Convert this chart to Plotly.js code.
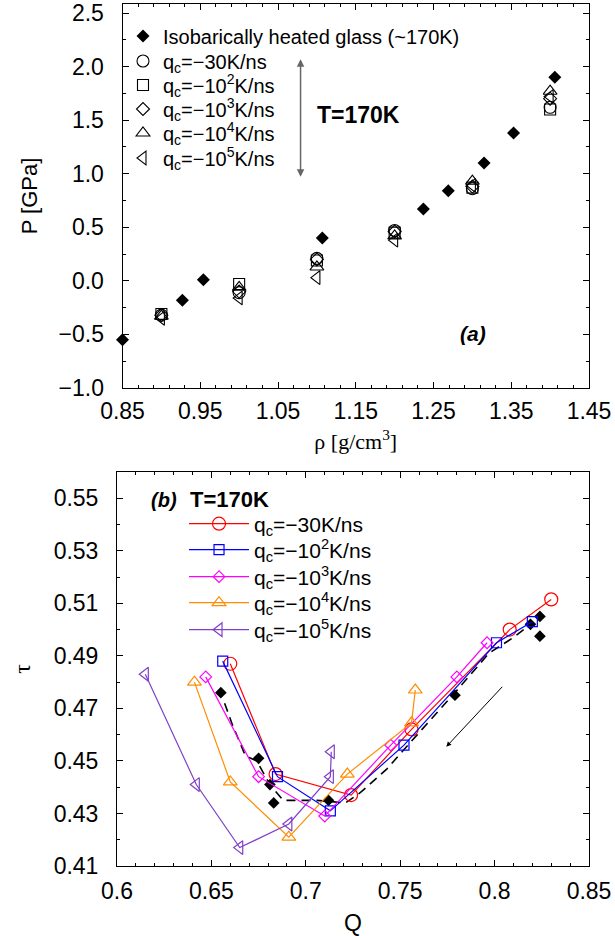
<!DOCTYPE html>
<html>
<head>
<meta charset="utf-8">
<script src="https://cdn.plot.ly/plotly-3.0.1.min.js"></script>
<style>html,body{margin:0;padding:0;background:#fff;}#chart{width:615px;height:936px;}</style>
</head>
<body>
<div id="chart"></div>
<script>
// ---------- Panel (a): P vs rho ----------
const rhoHeated = [0.850, 0.927, 0.954, 1.107, 1.237, 1.269, 1.315, 1.353, 1.406];
const pHeated   = [-0.55, -0.18, 0.01, 0.40, 0.67, 0.84, 1.10, 1.38, 1.90];

const rhoQuench = [0.90, 1.00, 1.10, 1.20, 1.30, 1.40];
const pQ30  = [-0.32, -0.11, 0.21, 0.47, 0.86, 1.62];
const pQ1e2 = [-0.31, -0.03, 0.19, 0.45, 0.87, 1.60];
const pQ1e3 = [-0.32, -0.10, 0.20, 0.46, 0.88, 1.70];
const pQ1e4 = [-0.33, -0.06, 0.13, 0.42, 0.93, 1.77];
const pQ1e5 = [-0.35, -0.16, 0.03, 0.38, 0.89, 1.72];

// ---------- Panel (b): tau vs Q ----------
const qQ30   = [0.660, 0.684, 0.724, 0.756, 0.808, 0.830];
const tauQ30 = [0.487, 0.445, 0.437, 0.462, 0.500, 0.5115];
const qQ1e2   = [0.656, 0.685, 0.713, 0.752, 0.801, 0.820];
const tauQ1e2 = [0.488, 0.444, 0.431, 0.456, 0.495, 0.503];
const qQ1e3   = [0.647, 0.675, 0.710, 0.745, 0.780, 0.796];
const tauQ1e3 = [0.482, 0.444, 0.429, 0.456, 0.482, 0.495];
const qQ1e4   = [0.641, 0.660, 0.691, 0.722, 0.756, 0.758];
const tauQ1e4 = [0.480, 0.442, 0.421, 0.445, 0.4645, 0.477];
const qQ1e5   = [0.615, 0.642, 0.665, 0.691, 0.713, 0.7135];
const tauQ1e5 = [0.483, 0.441, 0.417, 0.426, 0.444, 0.4535];

const qHeated   = [0.655, 0.675, 0.681, 0.683, 0.712, 0.779, 0.819, 0.824, 0.824];
const tauHeated = [0.476, 0.451, 0.441, 0.434, 0.435, 0.475, 0.502, 0.505, 0.4975];
const qHeatPath   = [0.657, 0.661, 0.668, 0.674, 0.681, 0.688, 0.706, 0.721, 0.729, 0.743, 0.764, 0.779, 0.797, 0.810, 0.820];
const tauHeatPath = [0.472, 0.464, 0.452, 0.450, 0.441, 0.435, 0.435, 0.434, 0.438, 0.447, 0.464, 0.476, 0.491, 0.497, 0.5025];

const seriesNames = [
  'q<sub>c</sub>=\u221230K/ns',
  'q<sub>c</sub>=\u221210<sup>2</sup>K/ns',
  'q<sub>c</sub>=\u221210<sup>3</sup>K/ns',
  'q<sub>c</sub>=\u221210<sup>4</sup>K/ns',
  'q<sub>c</sub>=\u221210<sup>5</sup>K/ns'
];
const heatedName = 'Isobarically heated glass (~170K)';

// ---------- styles ----------
const openSymbols = ['circle-open', 'square-open', 'diamond-open', 'triangle-up-open', 'triangle-left-open'];
const topSizes = [12, 11, 10, 12, 12];
const botSizes = [13, 10, 9, 12, 12];
const colors = ['#ff0000', '#0000ff', '#ff00ff', '#ff8c00', '#8040c8'];

const topP = [pQ30, pQ1e2, pQ1e3, pQ1e4, pQ1e5];
const botQ = [qQ30, qQ1e2, qQ1e3, qQ1e4, qQ1e5];
const botT = [tauQ30, tauQ1e2, tauQ1e3, tauQ1e4, tauQ1e5];

const baseFont = 'Liberation Sans, Arial, Helvetica, sans-serif';
const serifFont = 'Liberation Serif, Times New Roman, serif';

// page-pixel layout helpers
const plotTop = 4, plotBottom = 866, paperH = plotBottom - plotTop;
const toPaperY = py => (plotBottom - py) / paperH;
const topRows = [36, 61, 85, 109, 133, 158];
const botRows = [524, 550, 577, 603, 630];

const traces = [];
const legends = {};
function legendId(k) { return k === 0 ? 'legend' : 'legend' + (k + 1); }

traces.push({
  x: rhoHeated, y: pHeated, xaxis: 'x', yaxis: 'y', type: 'scatter', mode: 'markers',
  name: heatedName, legend: legendId(0), cliponaxis: false,
  marker: {symbol: 'diamond', size: 10, color: '#000'}
});
for (let i = 0; i < 5; i++) {
  traces.push({
    x: rhoQuench, y: topP[i], xaxis: 'x', yaxis: 'y', type: 'scatter', mode: 'markers',
    name: seriesNames[i], legend: legendId(i + 1), cliponaxis: false,
    marker: {symbol: openSymbols[i], size: topSizes[i], color: '#000', line: {width: 1.1, color: '#000'}}
  });
}
for (let k = 0; k < 6; k++) {
  legends[legendId(k)] = {
    x: 0.0127, xanchor: 'left', y: toPaperY(topRows[k]), yanchor: 'middle',
    bgcolor: 'rgba(0,0,0,0)', borderwidth: 0, itemwidth: 30,
    font: {family: baseFont, size: 20, color: '#000'}
  };
}

traces.push({
  x: qHeatPath, y: tauHeatPath, xaxis: 'x2', yaxis: 'y2', type: 'scatter', mode: 'lines',
  showlegend: false, line: {color: '#000', width: 1.6, dash: '9px,6px'}
});
traces.push({
  x: qHeated, y: tauHeated, xaxis: 'x2', yaxis: 'y2', type: 'scatter', mode: 'markers',
  showlegend: false, marker: {symbol: 'diamond', size: 9, color: '#000'}
});
for (let i = 0; i < 5; i++) {
  const lid = legendId(6 + i);
  traces.push({
    x: botQ[i], y: botT[i], xaxis: 'x2', yaxis: 'y2', type: 'scatter', mode: 'lines+markers',
    name: seriesNames[i], legend: lid, cliponaxis: false,
    line: {color: colors[i], width: 1.2},
    marker: {symbol: openSymbols[i], size: botSizes[i], color: colors[i], line: {width: 1.2, color: colors[i]}}
  });
  legends[lid] = {
    x: 0.142, xanchor: 'left', y: toPaperY(botRows[i]), yanchor: 'middle',
    bgcolor: 'rgba(0,0,0,0)', borderwidth: 0, itemwidth: 60,
    font: {family: baseFont, size: 21, color: '#000'}
  };
}

function axisStyle(extra) {
  return Object.assign({
    ticks: 'inside', ticklen: 6, tickwidth: 1, tickcolor: '#000',
    showline: true, linecolor: '#000', linewidth: 1, mirror: 'allticks',
    showgrid: false, zeroline: false, automargin: false, ticklabeloverflow: 'allow',
    tickfont: {family: baseFont, size: 23, color: '#000'}
  }, extra);
}

const layout = Object.assign({
  width: 615, height: 936,
  margin: {l: 117, r: 26, t: plotTop, b: 936 - plotBottom},
  paper_bgcolor: '#fff', plot_bgcolor: '#fff',
  font: {family: baseFont, size: 20, color: '#000'},
  showlegend: true,
  xaxis: axisStyle({
    domain: [0.0117, 1], anchor: 'y', range: [0.85, 1.45],
    tick0: 0.85, dtick: 0.1, tickformat: '.2f', ticklabelstandoff: 2,
    minor: {tick0: 0.85, dtick: 0.02, ticklen: 3, ticks: 'inside', tickcolor: '#000'},
    title: {text: '\u03c1 [g/cm<sup>3</sup>]', font: {family: serifFont, size: 22}, standoff: 11}
  }),
  yaxis: axisStyle({
    domain: [toPaperY(388), 1], anchor: 'x', range: [-1, 2.584],
    tick0: -1, dtick: 0.5, tickformat: '.1f', ticklabelstandoff: 13,
    minor: {tick0: -1, dtick: 0.25, ticklen: 3, ticks: 'inside', tickcolor: '#000'},
    title: {text: 'P [GPa]', font: {family: baseFont, size: 22}, standoff: 14}
  }),
  xaxis2: axisStyle({
    domain: [0, 1], anchor: 'y2', range: [0.6, 0.85],
    tick0: 0.6, dtick: 0.05, ticklabelstandoff: 4,
    minor: {tick0: 0.6, dtick: 0.01, ticklen: 3, ticks: 'inside', tickcolor: '#000'},
    title: {text: 'Q', font: {family: baseFont, size: 23}, standoff: 14}
  }),
  yaxis2: axisStyle({
    domain: [0, toPaperY(472)], anchor: 'x2', range: [0.41, 0.56],
    tick0: 0.41, dtick: 0.02, tickformat: '.2f', ticklabelstandoff: 13,
    minor: {tick0: 0.41, dtick: 0.01, ticklen: 3, ticks: 'inside', tickcolor: '#000'},
    title: {text: '\u03c4', font: {family: serifFont, size: 24}, standoff: 16}
  }),
  annotations: [
    {xref: 'x', yref: 'y', x: 1.153, y: 1.549, text: '<b>T=170K</b>', showarrow: false,
     font: {family: baseFont, size: 23, color: '#000'}},
    {xref: 'x', yref: 'y', x: 1.301, y: -0.488, text: '<b><i>(a)</i></b>', showarrow: false,
     font: {family: baseFont, size: 21, color: '#000'}},
    {xref: 'x', yref: 'y', x: 1.079, y: 0.972, axref: 'x', ayref: 'y', ax: 1.079, ay: 2.083,
     showarrow: true, arrowside: 'end+start', arrowhead: 2, arrowsize: 1, arrowwidth: 1.5,
     arrowcolor: '#666', text: ''},
    {xref: 'x2', yref: 'y2', x: 0.6251, y: 0.5494, text: '<b><i>(b)</i></b>', showarrow: false,
     font: {family: baseFont, size: 20, color: '#000'}},
    {xref: 'x2', yref: 'y2', x: 0.6594, y: 0.5494, text: '<b>T=170K</b>', showarrow: false,
     font: {family: baseFont, size: 22, color: '#000'}},
    {xref: 'x2', yref: 'y2', x: 0.7744, y: 0.4554, axref: 'x2', ayref: 'y2', ax: 0.8048, ay: 0.4788,
     showarrow: true, arrowhead: 2, arrowsize: 1, arrowwidth: 1, arrowcolor: '#000', text: ''}
  ]
}, legends);

Plotly.newPlot('chart', traces, layout, {displayModeBar: false, staticPlot: true});
</script>
</body>
</html>
